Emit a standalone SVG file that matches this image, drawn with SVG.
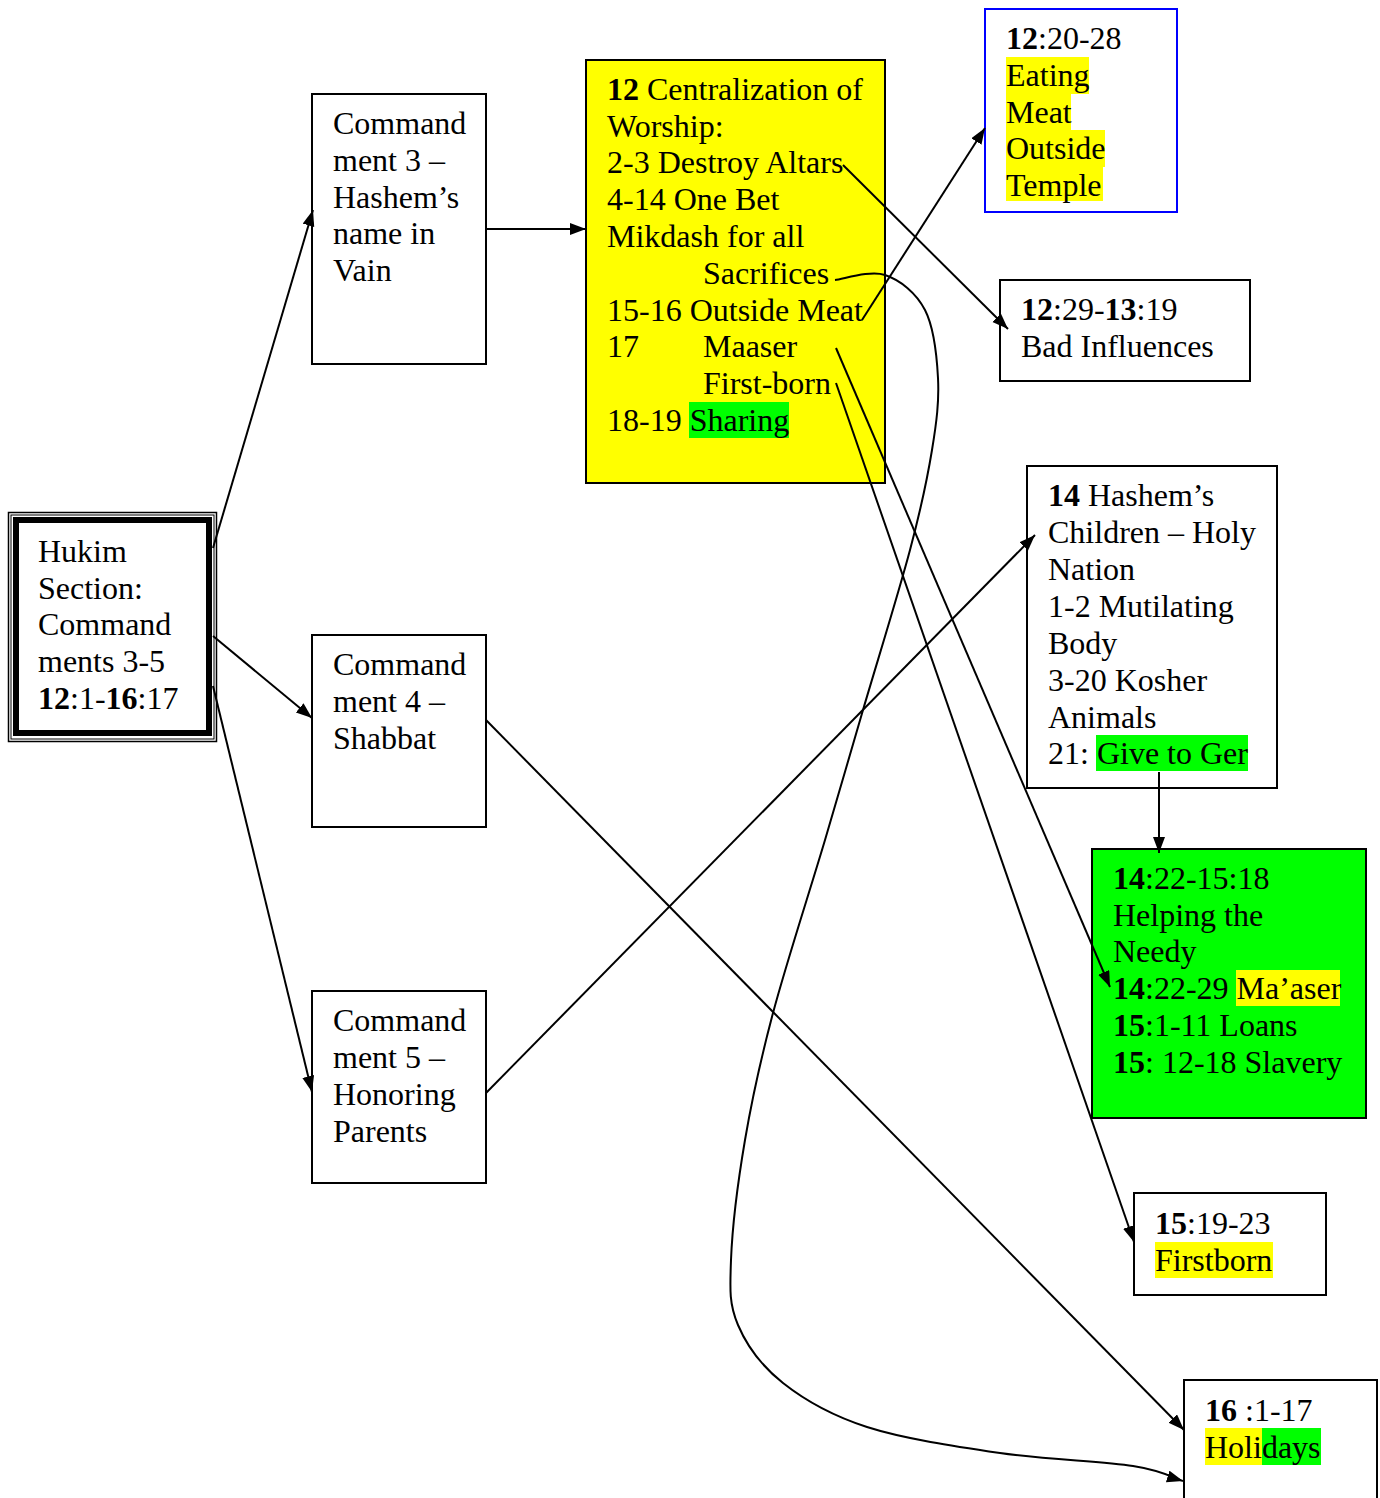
<svg xmlns="http://www.w3.org/2000/svg" width="1380" height="1498" viewBox="0 0 1380 1498" font-family="'Liberation Serif', 'Times New Roman', 'DejaVu Serif', serif">
<defs>
<marker id="ah" markerUnits="userSpaceOnUse" markerWidth="18" markerHeight="14" refX="16" refY="6" orient="auto">
<path d="M0,0 L16,6 L0,12 z" fill="#000"/>
</marker>
<style>
text{font-family:'Liberation Serif','Times New Roman','DejaVu Serif',serif;font-size:32px;fill:#000}
.b{font-weight:bold}
.box{fill:#fff;stroke:#000;stroke-width:2}
.c{fill:none;stroke:#000;stroke-width:2;marker-end:url(#ah)}
.hy{fill:#ffff00}
.hg{fill:#00ff00}
</style>
</defs>
<rect width="1380" height="1498" fill="#fff"/>

<g id="hukim">
<rect x="8.5" y="512.5" width="208" height="229" fill="#fff" stroke="#000" stroke-width="1.5"/>
<rect x="11" y="515" width="203" height="224" fill="none" stroke="#000" stroke-width="1"/>
<rect x="16" y="520" width="193" height="213" fill="none" stroke="#000" stroke-width="6"/>
<text x="38" y="562">Hukim</text>
<text x="38" y="599">Section:</text>
<text x="38" y="635">Command</text>
<text x="38" y="672">ments 3-5</text>
<text x="38" y="709"><tspan class="b">12</tspan>:1-<tspan class="b">16</tspan>:17</text>
</g>

<g id="cmd3">
<rect class="box" x="312" y="94" width="174" height="270"/>
<text x="333" y="134">Command</text>
<text x="333" y="171">ment 3 –</text>
<text x="333" y="208">Hashem’s</text>
<text x="333" y="244">name in</text>
<text x="333" y="281">Vain</text>
</g>

<g id="cmd4">
<rect class="box" x="312" y="635" width="174" height="192"/>
<text x="333" y="675">Command</text>
<text x="333" y="712">ment 4 –</text>
<text x="333" y="749">Shabbat</text>
</g>

<g id="cmd5">
<rect class="box" x="312" y="991" width="174" height="192"/>
<text x="333" y="1031">Command</text>
<text x="333" y="1068">ment 5 –</text>
<text x="333" y="1105">Honoring</text>
<text x="333" y="1142">Parents</text>
</g>

<g id="ch12">
<rect x="586" y="60" width="299" height="423" fill="#ffff00" stroke="#000" stroke-width="2"/>
<rect class="hg" x="689" y="402" width="100" height="36"/>
<text x="607" y="100"><tspan class="b">12</tspan> Centralization of</text>
<text x="607" y="137">Worship:</text>
<text x="607" y="173">2-3 Destroy Altars</text>
<text x="607" y="210">4-14 One Bet</text>
<text x="607" y="247">Mikdash for all</text>
<text x="703" y="284">Sacrifices</text>
<text x="607" y="321">15-16 Outside Meat</text>
<text x="607" y="357">17</text>
<text x="703" y="357">Maaser</text>
<text x="703" y="394">First-born</text>
<text x="607" y="431">18-19 Sharing</text>
</g>

<g id="eating">
<rect x="985" y="9" width="192" height="203" fill="#fff" stroke="#0000ff" stroke-width="2"/>
<rect class="hy" x="1006" y="57" width="83" height="37"/>
<rect class="hy" x="1006" y="94" width="65" height="36"/>
<rect class="hy" x="1006" y="130" width="99" height="37"/>
<rect class="hy" x="1006" y="167" width="97" height="34"/>
<text x="1006" y="49"><tspan class="b">12</tspan>:20-28</text>
<text x="1006" y="86">Eating</text>
<text x="1006" y="123">Meat</text>
<text x="1006" y="159">Outside</text>
<text x="1006" y="196">Temple</text>
</g>

<g id="bad">
<rect class="box" x="1000" y="280" width="250" height="101"/>
<text x="1021" y="320"><tspan class="b">12</tspan>:29-<tspan class="b">13</tspan>:19</text>
<text x="1021" y="357">Bad Influences</text>
</g>

<g id="ch14">
<rect class="box" x="1027" y="466" width="250" height="322"/>
<rect class="hg" x="1096" y="735" width="152" height="36"/>
<text x="1048" y="506"><tspan class="b">14</tspan> Hashem’s</text>
<text x="1048" y="543">Children – Holy</text>
<text x="1048" y="580">Nation</text>
<text x="1048" y="617">1-2 Mutilating</text>
<text x="1048" y="654">Body</text>
<text x="1048" y="691">3-20 Kosher</text>
<text x="1048" y="728">Animals</text>
<text x="1048" y="764">21: Give to Ger</text>
</g>

<g id="needy">
<rect x="1092" y="849" width="274" height="269" fill="#00ff00" stroke="#000" stroke-width="2"/>
<rect class="hy" x="1236" y="970" width="104" height="36"/>
<text x="1113" y="889"><tspan class="b">14</tspan>:22-15:18</text>
<text x="1113" y="926">Helping the</text>
<text x="1113" y="962">Needy</text>
<text x="1113" y="999"><tspan class="b">14</tspan>:22-29 Ma’aser</text>
<text x="1113" y="1036"><tspan class="b">15</tspan>:1-11 Loans</text>
<text x="1113" y="1073"><tspan class="b">15</tspan>: 12-18 Slavery</text>
</g>

<g id="firstborn">
<rect class="box" x="1134" y="1193" width="192" height="102"/>
<rect class="hy" x="1155" y="1242" width="118" height="36"/>
<text x="1155" y="1234"><tspan class="b">15</tspan>:19-23</text>
<text x="1155" y="1271">Firstborn</text>
</g>

<g id="holidays">
<rect class="box" x="1184" y="1380" width="193" height="130"/>
<rect class="hy" x="1205" y="1428" width="57" height="37"/>
<rect class="hg" x="1262" y="1428" width="59" height="37"/>
<text x="1205" y="1421"><tspan class="b">16</tspan> :1-17</text>
<text x="1205" y="1458">Holidays</text>
</g>

<g id="connectors">
<line class="c" x1="213" y1="548" x2="313" y2="210"/>
<line class="c" x1="213" y1="636" x2="312" y2="718"/>
<line class="c" x1="213" y1="686" x2="312" y2="1092"/>
<line class="c" x1="486" y1="229" x2="586" y2="229"/>
<line class="c" x1="843" y1="165" x2="1008" y2="329"/>
<line class="c" x1="862" y1="320" x2="985" y2="128"/>
<line class="c" x1="836" y1="348" x2="1110" y2="987"/>
<line class="c" x1="836" y1="383" x2="1134" y2="1242"/>
<line class="c" x1="486" y1="720" x2="1184" y2="1430"/>
<line class="c" x1="486" y1="1093" x2="1035" y2="535"/>
<line class="c" x1="1159" y1="772" x2="1159" y2="853"/>
<path class="c" d="M835,280 C843.3,279.2 870,270 885,275 C900,280 916.2,292.8 925,310 C933.8,327.2 936.8,354.7 938,378 C939.2,401.3 936.7,421.3 932,450 C927.3,478.7 921.5,506.7 910,550 C898.5,593.3 877.2,661.7 863,710 C848.8,758.3 840,789.5 825,840 C810,890.5 786.3,963 773,1013 C759.7,1063 752,1098.8 745,1140 C738,1181.2 732.2,1229.2 731,1260 C729.8,1290.8 729.3,1304.5 738,1325 C746.7,1345.5 761.5,1366 783,1383 C804.5,1400 830.8,1415.3 867,1427 C903.2,1438.7 955.7,1446.5 1000,1453 C1044.3,1459.5 1102.5,1461.3 1133,1466 C1163.5,1470.7 1174.7,1478.5 1183,1481"/>
</g>
</svg>
